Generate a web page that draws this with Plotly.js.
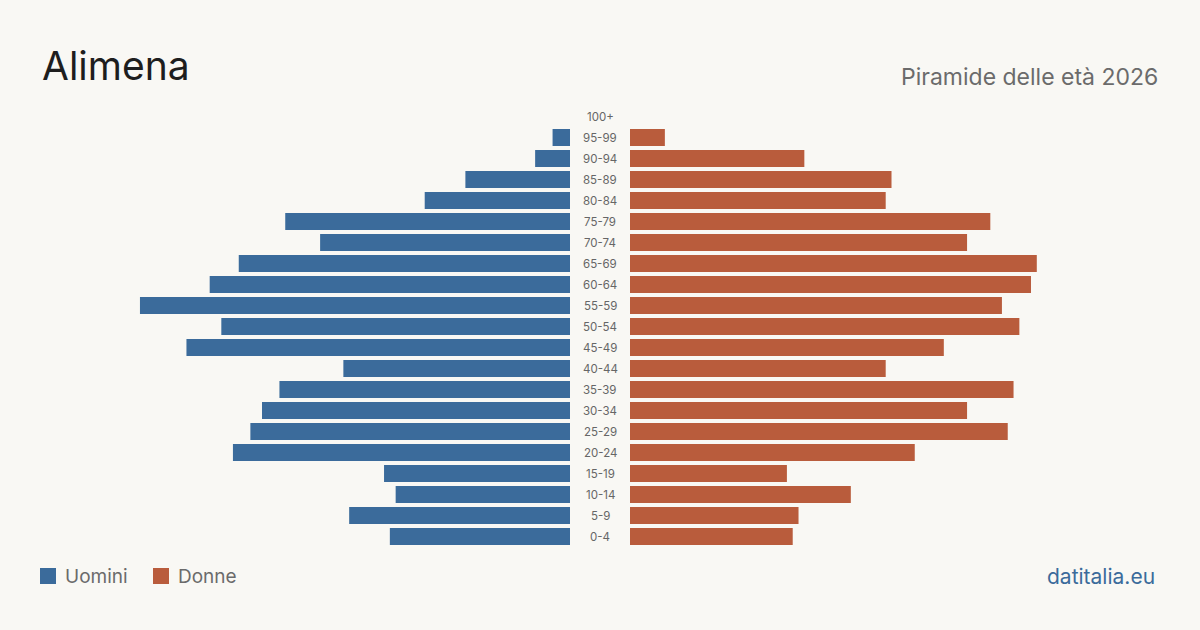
<!DOCTYPE html>
<html>
<head>
<meta charset="utf-8">
<script src="https://cdn.plot.ly/plotly-3.0.1.min.js"></script>
<style>
  html, body { margin: 0; padding: 0; background: #f9f8f4; }
  #chart { width: 1200px; height: 630px; }
</style>
</head>
<body>
<div id="chart"></div>
<script>
// Age groups, bottom to top
const ageGroups = ["0-4","5-9","10-14","15-19","20-24","25-29","30-34","35-39","40-44","45-49",
                   "50-54","55-59","60-64","65-69","70-74","75-79","80-84","85-89","90-94","95-99","100+"];
// Residents by sex in each age group
const men   = [31, 38, 30, 32, 58, 55, 53, 50, 39, 66, 60, 74, 62, 57, 43, 49, 25, 18, 6, 3, 0];
const women = [28, 29, 38, 27, 49, 65, 58, 66, 44, 54, 67, 64, 69, 70, 58, 62, 44, 45, 30, 6, 0];

const seriesNames = ["Uomini", "Donne"];
const colors = ["#3b6b9b", "#b95c3c"];
const bg = "#f9f8f4";
const font = "Inter, 'Noto Sans', sans-serif";

const W = 1200;
const H = 630;
const mTop = 106, mBottom = 83;
const plotH = H - mTop - mBottom;
const maxVal = 91.2;

// convert a pixel row of the page to a paper fraction
const py = px => (H - mBottom - px) / plotH;

const traces = [
  {
    type: "bar", orientation: "h", name: seriesNames[0],
    y: ageGroups, x: men, xaxis: "x", yaxis: "y",
    marker: { color: colors[0] }, hoverinfo: "x+y", showlegend: false
  },
  {
    type: "bar", orientation: "h", name: seriesNames[1],
    y: ageGroups, x: women, xaxis: "x2", yaxis: "y2",
    marker: { color: colors[1] }, hoverinfo: "x+y", showlegend: false
  }
];

// Age labels in the central gap
const annotations = ageGroups.map(g => ({
  xref: "paper", yref: "y", x: 600 / W, y: g,
  text: g, showarrow: false, xanchor: "center", yanchor: "middle",
  font: { family: font, size: 11.5, color: "#666" }
}));

annotations.push(
  { xref: "paper", yref: "paper", x: 40 / W, y: py(66), xanchor: "left", yanchor: "middle",
    text: "Alimena", showarrow: false, font: { family: font, size: 39, color: "#1e1e1e" } },
  { xref: "paper", yref: "paper", x: 1160 / W, y: py(77), xanchor: "right", yanchor: "middle",
    text: "Piramide delle età 2026", showarrow: false, font: { family: font, size: 23, color: "#6b6b6b" } },
  { xref: "paper", yref: "paper", x: 1157 / W, y: py(576), xanchor: "right", yanchor: "middle",
    text: "datitalia.eu", showarrow: false, font: { family: font, size: 21, color: "#3b6b9b" } }
);

// Legend: coloured squares with labels
const legendX = [40, 153];
const shapes = [];
seriesNames.forEach((n, i) => {
  shapes.push({
    type: "rect", xref: "paper", yref: "paper",
    x0: legendX[i] / W, x1: (legendX[i] + 16) / W,
    y0: py(584), y1: py(568),
    fillcolor: colors[i], line: { width: 0 }
  });
  annotations.push({
    xref: "paper", yref: "paper", x: (legendX[i] + 23) / W, y: py(576),
    xanchor: "left", yanchor: "middle", text: n, showarrow: false,
    font: { family: font, size: 19, color: "#6b6b6b" }
  });
});

const layout = {
  width: W, height: H, autosize: false,
  paper_bgcolor: bg, plot_bgcolor: bg,
  margin: { l: 0, r: 0, t: mTop, b: mBottom },
  bargap: 0.19,
  showlegend: false,
  xaxis:  { domain: [40 / W, 570 / W], range: [maxVal, 0], visible: false, fixedrange: true },
  xaxis2: { domain: [630 / W, 1160 / W], range: [0, maxVal], visible: false, fixedrange: true },
  yaxis:  { anchor: "x", type: "category", categoryorder: "array", categoryarray: ageGroups,
            visible: false, range: [-0.5, ageGroups.length - 0.5] },
  yaxis2: { anchor: "x2", type: "category", categoryorder: "array", categoryarray: ageGroups,
            visible: false, matches: "y" },
  annotations: annotations,
  shapes: shapes
};

Plotly.newPlot("chart", traces, layout, { displayModeBar: false, staticPlot: true });
</script>
</body>
</html>
